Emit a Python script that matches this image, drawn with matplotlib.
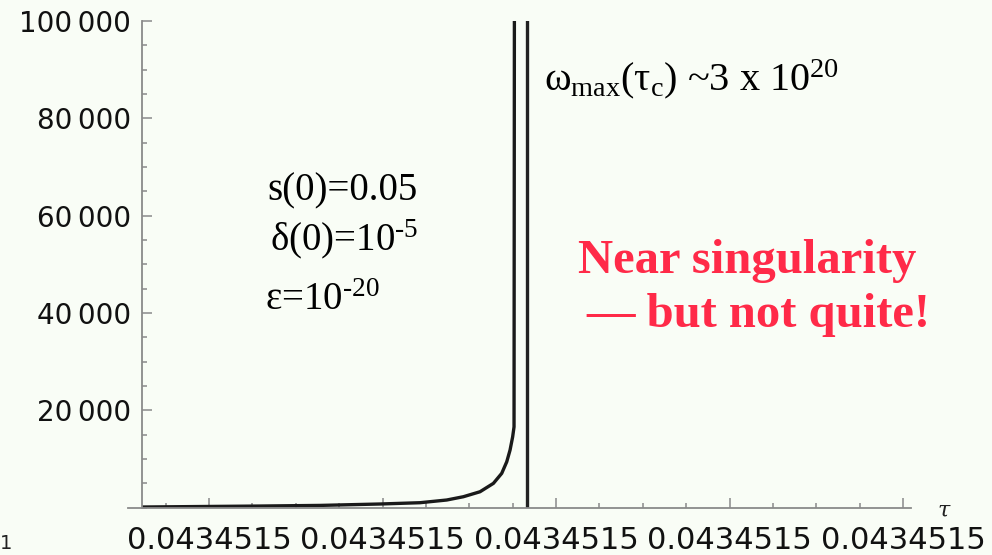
import matplotlib
matplotlib.use("Agg")
import matplotlib.pyplot as plt
from matplotlib.ticker import FixedLocator, MultipleLocator, NullFormatter

# tau measured as offset steps between the labelled ticks
tau_steps = [0.614, 0.948, 1.294, 1.640, 1.986, 2.216, 2.370, 2.466, 2.562,
             2.639, 2.687, 2.716, 2.735, 2.750, 2.758, 2.7625]
omega = [100, 200, 300, 430, 720, 985, 1540, 2215, 3240,
         4960, 7015, 9400, 11800, 14520, 16570, 200000]

# return branch of the plotted line after the blow-up
drop_tau = [2.833, 2.833]
drop_omega = [200000, 0]

x_tick_pos = [1, 2, 3, 4, 5]
x_tick_labels = ["0.0434515"] * 5
y_tick_pos = [20000, 40000, 60000, 80000, 100000]
y_tick_labels = ["20\u2009000", "40\u2009000", "60\u2009000", "80\u2009000", "100\u2009000"]

plt.rcParams["mathtext.fontset"] = "custom"
plt.rcParams["mathtext.rm"] = "Liberation Serif"
plt.rcParams["mathtext.it"] = "Liberation Serif:italic"
plt.rcParams["mathtext.bf"] = "Liberation Serif:bold"

bg = "#f9fdf6"
W, H = 992, 555
fig = plt.figure(figsize=(W / 100, H / 100), dpi=100, facecolor=bg)

# axes box in pixel terms
x0, x1 = 128, 911
y_top, y_bot = 21, 507.5
ax = fig.add_axes([x0 / W, 1 - y_bot / H, (x1 - x0) / W, (y_bot - y_top) / H])
ax.set_facecolor(bg)

ax.set_xlim(0.533, 5.046)
ax.set_ylim(0, 100000)

ax.plot(tau_steps, omega, color="#1a1a1a", lw=2.4, solid_capstyle="butt")
ax.plot(drop_tau, drop_omega, color="#222222", lw=2.4, solid_capstyle="butt")

axis_col = "#8a8a8a"
for s in ["top", "right"]:
    ax.spines[s].set_visible(False)
ax.spines["left"].set_position(("data", 0.614))
ax.spines["left"].set_color(axis_col)
ax.spines["bottom"].set_color(axis_col)
ax.spines["left"].set_linewidth(1.3)
ax.spines["bottom"].set_linewidth(1.3)

tick_font = "DejaVu Sans"

ax.xaxis.set_major_locator(FixedLocator(x_tick_pos))
ax.set_xticklabels(x_tick_labels, fontsize=22, family=tick_font, color="#111111")
ax.xaxis.set_minor_locator(MultipleLocator(0.25))
ax.yaxis.set_major_locator(FixedLocator(y_tick_pos))
ax.set_yticklabels(y_tick_labels, fontsize=20, family=tick_font, color="#111111")
ax.yaxis.set_minor_locator(MultipleLocator(5000))
ax.yaxis.set_minor_formatter(NullFormatter())

ax.tick_params(axis="both", which="major", direction="in", length=7, width=1.1,
               color=axis_col)
ax.tick_params(axis="both", which="minor", direction="in", length=3.5, width=1.1,
               color=axis_col)
ax.tick_params(axis="x", which="major", pad=13)
ax.tick_params(axis="y", which="major", pad=8)


def px(x, y):
    return x / W, 1 - y / H


serif = "Liberation Serif"
fig.text(*px(544, 90), "ω$_{\\rm max}$(τ$_{\\rm c}$) ~3 x 10$^{20}$",
         fontsize=29, family=serif, va="baseline", ha="left", color="#000000")
fig.text(*px(267, 200), "s(0)=0.05", fontsize=28, family=serif,
         va="baseline", ha="left", color="#000000")
fig.text(*px(270, 250), "δ(0)=10$^{\\text{-5}}$", fontsize=28, family=serif,
         va="baseline", ha="left", color="#000000")
fig.text(*px(265, 310), "ε=10$^{\\text{-20}}$", fontsize=28, family=serif,
         va="baseline", ha="left", color="#000000")

red = "#ff2a48"
fig.text(*px(578, 273), "Near singularity", fontsize=35, family=serif,
         weight="bold", va="baseline", ha="left", color=red)
fig.text(*px(586, 327), "— but not quite!", fontsize=35, family=serif,
         weight="bold", va="baseline", ha="left", color=red)

# axis name at the end of the tau axis
fig.text(*px(944, 511), "τ", fontsize=16, family="DejaVu Serif", style="italic",
         va="center", ha="center", color="#222222")
fig.text(*px(0, 553), "1", fontsize=14, family="DejaVu Sans",
         va="bottom", ha="left", color="#222222")

fig.savefig("out.png", dpi=100, facecolor=bg)
